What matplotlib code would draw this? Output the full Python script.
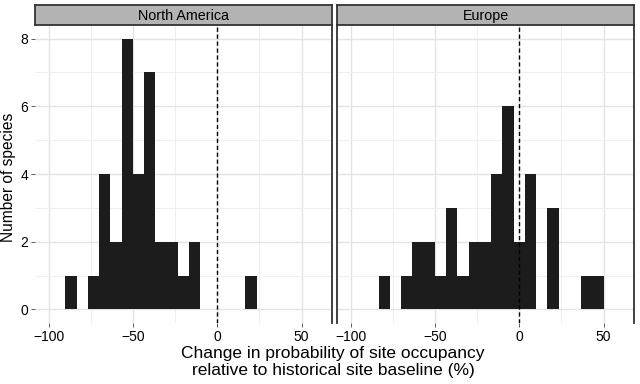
import numpy as np
import matplotlib
matplotlib.use("Agg")
import matplotlib.pyplot as plt

plt.rcParams['font.family'] = ['Liberation Sans', 'DejaVu Sans']

# histogram counts, 21 bins of width 20/3 starting at -90
bin_edges = np.linspace(-90, 50, 22)
na_counts = [1, 0, 1, 4, 2, 8, 4, 7, 2, 2, 1, 2, 0, 0, 0, 0, 1, 0, 0, 0, 0]
eu_counts = [0, 1, 0, 1, 2, 2, 1, 3, 1, 2, 2, 4, 6, 2, 4, 0, 3, 0, 0, 1, 1]
panels = ['North America', 'Europe']
x_ticks = [-100, -50, 0, 50]
y_ticks = [0, 2, 4, 6, 8]

bar_col = '#1c1c1c'
grid_major = '#e3e3e3'
grid_minor = '#efefef'
border = '#333333'

fig = plt.figure(figsize=(6.4, 3.84), dpi=100)

lefts = [35 / 640, 337 / 640]
w = 297 / 640
bottom = 1 - 323 / 384
top = 1 - 25 / 384

for i, (name, counts) in enumerate(zip(panels, [na_counts, eu_counts])):
    ax = fig.add_axes([lefts[i], bottom, w, top - bottom])
    width = bin_edges[1] - bin_edges[0]
    ax.bar(bin_edges[:-1], counts, width=width, align='edge',
           color=bar_col, linewidth=0, zorder=3)
    ax.axvline(0, color='black', linestyle=(0, (3, 2)), linewidth=1, zorder=4)
    ax.set_xlim(-108, 68)
    ax.set_ylim(-0.4, 8.4)
    ax.set_xticks(x_ticks)
    ax.set_xticks([-75, -25, 25], minor=True)
    ax.set_yticks(y_ticks)
    ax.set_yticks([1, 3, 5, 7], minor=True)
    ax.grid(True, which='major', color=grid_major, linewidth=1, zorder=0)
    ax.grid(True, which='minor', color=grid_minor, linewidth=0.8, zorder=0)
    ax.tick_params(which='minor', length=0)
    ax.tick_params(which='major', length=3, width=0.6, color='#444444',
                   labelsize=10, pad=2, labelcolor='black')
    for s in ['top', 'bottom', 'left', 'right']:
        ax.spines[s].set_visible(False)
    ax.spines['right'].set_visible(True)
    ax.spines['right'].set_color(border)
    ax.spines['right'].set_linewidth(1.3)
    if i == 0:
        ax.set_yticklabels([str(t) for t in y_ticks])
    else:
        ax.spines['left'].set_visible(True)
        ax.spines['left'].set_color(border)
        ax.spines['left'].set_linewidth(1.3)
        ax.tick_params(axis='y', left=False, labelleft=False)

    # facet strip
    sax = fig.add_axes([lefts[i], top, w, 20 / 384])
    sax.set_facecolor('#b3b3b3')
    sax.set_xticks([])
    sax.set_yticks([])
    for s in sax.spines.values():
        s.set_color(border)
        s.set_linewidth(1.3)
    sax.text(0.5, 0.45, name, ha='center', va='center', fontsize=10.3,
             transform=sax.transAxes)

fig.text(9 / 640, 1 - 177 / 384, 'Number of species', rotation=90,
         ha='center', va='center', fontsize=11.2)
fig.text(333 / 640, 1 - 362 / 384,
         'Change in probability of site occupancy\nrelative to historical site baseline (%)',
         ha='center', va='center', fontsize=12.5, linespacing=1.15)

fig.savefig('out.png', dpi=100)
